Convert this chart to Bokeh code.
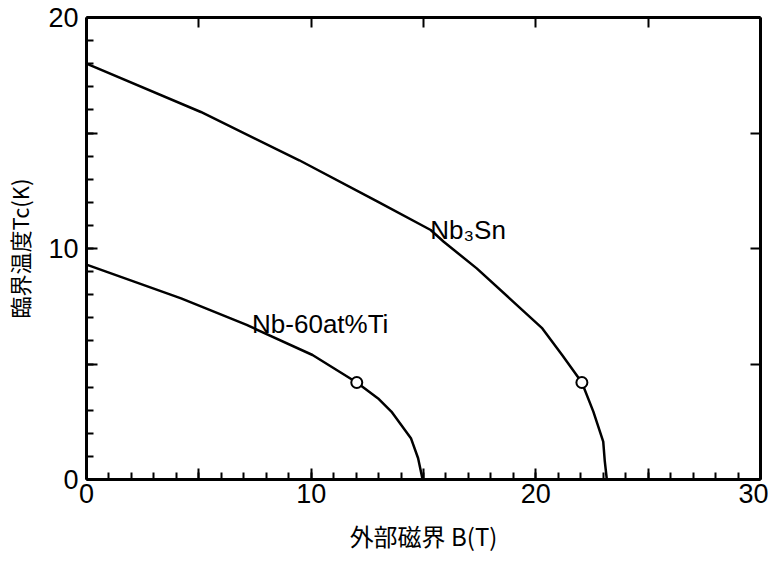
from bokeh.plotting import figure
from bokeh.models import LinearAxis, FixedTicker, Range1d, Label
from bokeh.embed import file_html
from bokeh.resources import INLINE

# --- data ---
nb3sn_b = [0, 5.09, 9.47, 12.98, 15.32, 15.9, 17.37, 18.83, 20.29, 21.17, 22.05, 22.56, 23.0, 23.07, 23.16]
nb3sn_t = [18.0, 15.91, 13.82, 12.02, 10.8, 10.29, 9.14, 7.84, 6.54, 5.39, 4.2, 2.94, 1.64, 0.78, 0.0]

nbti_b = [0, 4.21, 7.13, 10.06, 12.03, 12.98, 13.57, 14.44, 14.76, 14.96]
nbti_t = [9.3, 7.84, 6.69, 5.39, 4.2, 3.51, 2.94, 1.79, 0.92, 0.0]

mark_b = [12.03, 22.05]
mark_t = [4.2, 4.2]

x_ticks = [0, 5, 10, 15, 20, 25, 30]
y_ticks = [0, 5, 10, 15, 20]
x_labels = {0: "0", 5: "", 10: "10", 15: "", 20: "20", 25: "", 30: "30"}
y_labels = {0: "0", 5: "", 10: "10", 15: "", 20: "20"}

x_title = "外部磁界 B(T)"
y_title = "臨界温度Tc(K)"

TICK_FONT = "Liberation Sans"
CJK_FONT = "Noto Sans CJK JP"

p = figure(width=768, height=555, x_range=Range1d(0, 30), y_range=Range1d(0, 20),
           output_backend="svg", toolbar_location=None,
           x_axis_location=None, y_axis_location=None,
           min_border_left=76, min_border_right=8, min_border_top=17, min_border_bottom=75)
p.grid.visible = False
p.outline_line_color = None
p.background_fill_color = "white"
p.border_fill_color = "white"


def style_axis(ax, labelled):
    ax.axis_line_width = 3
    ax.axis_line_color = "black"
    ax.major_tick_in = 11
    ax.major_tick_out = 0
    ax.minor_tick_in = 7
    ax.minor_tick_out = 0
    ax.major_tick_line_width = 2
    ax.minor_tick_line_width = 2
    ax.major_tick_line_color = "black"
    ax.minor_tick_line_color = "black"
    if labelled:
        ax.major_label_text_font = TICK_FONT
        ax.major_label_text_font_size = "27px"
        ax.major_label_text_color = "black"
        ax.axis_label_text_font = CJK_FONT
        ax.axis_label_text_font_style = "normal"
        ax.axis_label_text_color = "black"
    else:
        ax.major_label_text_font_size = "10px"
        ax.major_label_text_color = None
        ax.major_label_standoff = 0
        ax.minor_tick_line_color = None


xb = LinearAxis(ticker=FixedTicker(ticks=x_ticks, minor_ticks=list(range(0, 31))),
                major_label_overrides=x_labels, axis_label=x_title)
style_axis(xb, True)
xb.major_label_standoff = 4
xb.axis_label_text_font_size = "24px"
xb.axis_label_standoff = 12
p.add_layout(xb, "below")

yl = LinearAxis(ticker=FixedTicker(ticks=y_ticks, minor_ticks=list(range(0, 21))),
                major_label_overrides=y_labels, axis_label=y_title)
style_axis(yl, True)
yl.major_label_standoff = 8
yl.axis_label_text_font_size = "22px"
yl.axis_label_standoff = 10
p.add_layout(yl, "left")

xt = LinearAxis(ticker=FixedTicker(ticks=x_ticks),
                major_label_overrides={t: "" for t in x_ticks})
style_axis(xt, False)
xt.major_tick_in = 10
p.add_layout(xt, "above")

yr = LinearAxis(ticker=FixedTicker(ticks=y_ticks),
                major_label_overrides={t: "" for t in y_ticks})
style_axis(yr, False)
yr.major_tick_in = 10
p.add_layout(yr, "right")

p.line(nb3sn_b, nb3sn_t, line_width=2.5, line_color="black", line_join="round")
p.line(nbti_b, nbti_t, line_width=2.5, line_color="black", line_join="round")
p.scatter(mark_b, mark_t, marker="circle", size=11, fill_color="white",
          line_color="black", line_width=2)

p.add_layout(Label(x=15.3, y=10.8, text="Nb₃Sn", text_font=TICK_FONT,
                   text_font_size="26px", text_color="black", text_baseline="alphabetic"))
p.add_layout(Label(x=7.37, y=6.74, text="Nb-60at%Ti", text_font=TICK_FONT,
                   text_font_size="26px", text_color="black", text_baseline="alphabetic"))

open("out.html", "w").write(file_html(p, INLINE))
